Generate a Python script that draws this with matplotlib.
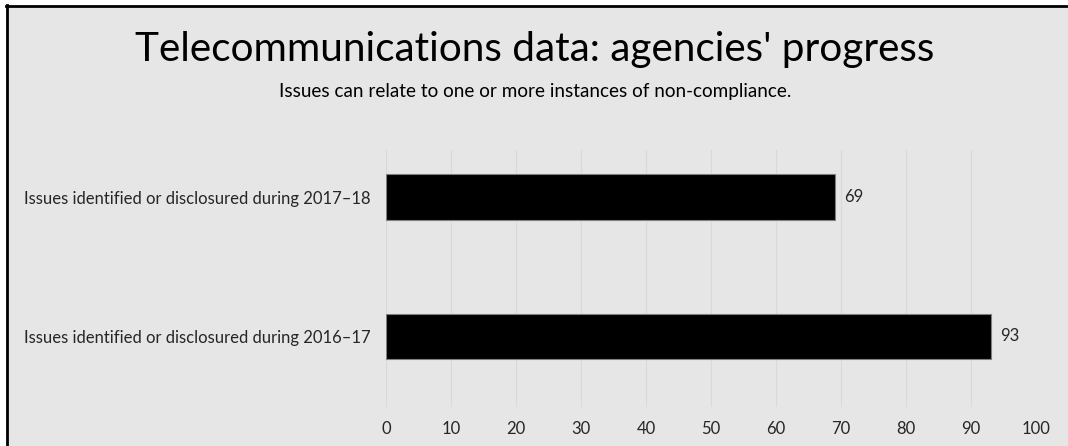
import matplotlib.pyplot as plt
from matplotlib.patches import Rectangle

categories = ['Issues identified or disclosured during 2016\u201317',
              'Issues identified or disclosured during 2017\u201318']
values = [93, 69]
xticks = [0, 10, 20, 30, 40, 50, 60, 70, 80, 90, 100]

title = "Telecommunications data: agencies' progress"
subtitle = 'Issues can relate to one or more instances of non-compliance.'

plt.rcParams['font.family'] = ['Lato', 'DejaVu Sans']

bg = '#e6e6e6'
fig = plt.figure(figsize=(10.68, 4.46), dpi=100)
fig.patch.set_facecolor('white')

# grey panel with black border on left/top
fig.patches.append(Rectangle((6 / 1068, 0), 1 - 6 / 1068, 1 - 6 / 446,
                             transform=fig.transFigure, facecolor=bg,
                             edgecolor='none', zorder=-10))
fig.add_artist(plt.Line2D([7 / 1068, 7 / 1068], [0, 1 - 5 / 446],
                          transform=fig.transFigure, color='black', lw=2,
                          zorder=-5))
fig.add_artist(plt.Line2D([6 / 1068, 1], [1 - 6 / 446, 1 - 6 / 446],
                          transform=fig.transFigure, color='black', lw=2,
                          zorder=-5))

ax = fig.add_axes([386 / 1068, 39 / 446, 650 / 1068, 257 / 446])
ax.set_facecolor('none')
ax.set_zorder(5)

ypos = list(range(len(categories)))
bars = ax.barh(ypos, values, height=0.324, color='black',
               edgecolor='#7f7f7f', linewidth=0.8, zorder=3)
for y, v in zip(ypos, values):
    ax.text(v + 1.5, y, str(v), va='center', ha='left', fontsize=12,
            color='#262626')

ax.set_xlim(0, 100)
ax.set_ylim(-0.51, 1.338)
ax.set_xticks(xticks)
ax.set_yticks(ypos)
ax.set_yticklabels(categories)
ax.tick_params(axis='both', length=0, labelsize=12, colors='#262626')
ax.tick_params(axis='x', pad=10)
ax.tick_params(axis='y', pad=11)
ax.grid(axis='x', color='#d9d9d9', linewidth=0.8, zorder=0)
for s in ax.spines.values():
    s.set_visible(False)

fig.text(535 / 1068, 1 - 50 / 446, title, ha='center', va='center',
         fontsize=29.2, color='black')
fig.text(535 / 1068, 1 - 91 / 446, subtitle, ha='center', va='center',
         fontsize=13.6, color='black')

plt.savefig('out.png', dpi=100, facecolor=fig.get_facecolor())
